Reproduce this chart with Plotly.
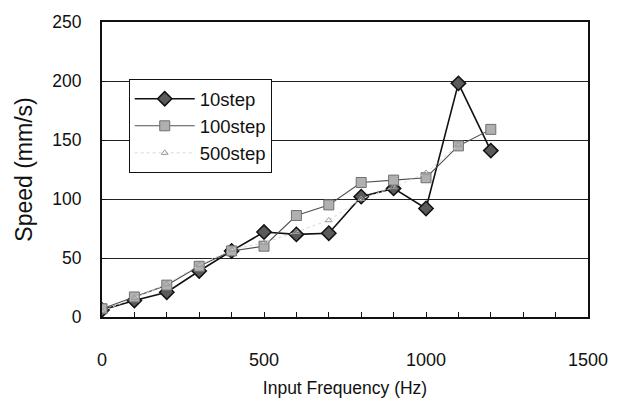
import plotly.graph_objects as go

freq = [0, 100, 200, 300, 400, 500, 600, 700, 800, 900, 1000, 1100, 1200]
speed_10 = [6, 14, 21, 39, 56, 72, 70, 71, 102, 109, 92, 198, 141]
speed_100 = [7, 17, 27, 43, 56, 60, 86, 95, 114, 116, 118, 145, 159]
freq_500 = [0, 100, 200, 300, 400, 500, 600, 700, 800, 900, 1000, 1100]
speed_500 = [5, 16, 28, 44, 57, 63, 72, 82, 100, 110, 122, 146]

x_ticks = [0, 500, 1000, 1500]
y_ticks = [0, 50, 100, 150, 200, 250]

FONT = "Liberation Sans, Arial, sans-serif"

fig = go.Figure()
fig.add_trace(go.Scatter(
    x=freq, y=speed_10, name="10step", mode="lines+markers", legendgroup="a",
    line=dict(color="#111111", width=1.6),
    marker=dict(symbol="diamond", size=11, color="#5a5a5a",
                line=dict(color="#111111", width=1.5)),
))
fig.add_trace(go.Scatter(
    x=freq, y=speed_100, name="100step", mode="lines+markers", legendgroup="b",
    line=dict(color="#505050", width=1.1),
    marker=dict(symbol="square", size=10, color="#b0b0b0",
                line=dict(color="#707070", width=1)),
))
fig.add_trace(go.Scatter(
    x=freq_500, y=speed_500, name="500step", mode="lines+markers", legendgroup="c",
    line=dict(color="#d8d8d8", width=1, dash="dot"),
    marker=dict(symbol="triangle-up", size=6, color="rgba(0,0,0,0)",
                line=dict(color="#9a9a9a", width=1)),
))

fig.update_layout(
    width=624, height=407,
    margin=dict(l=102, r=36, t=14, b=79),
    paper_bgcolor="white", plot_bgcolor="white",
    font=dict(family=FONT, color="#111111", size=17),
    showlegend=True,
    legend=dict(
        x=0.055, y=0.806, xanchor="left", yanchor="top",
        bgcolor="white", bordercolor="#111111", borderwidth=1,
        font=dict(size=18.5, family=FONT), itemwidth=60, tracegroupgap=0,
    ),
)
fig.update_xaxes(
    range=[0, 1500], tickvals=x_ticks, ticktext=[str(v) for v in x_ticks],
    showgrid=False, zeroline=False,
    showline=True, linecolor="#111111", linewidth=1.5, mirror=True,
    ticks="inside", ticklen=5, tickcolor="#111111",
    minor=dict(dtick=100, ticks="inside", ticklen=5, tickcolor="#111111"),
    ticklabelstandoff=26,
    title=dict(text="Input Frequency (Hz)", font=dict(size=17.5, family=FONT), standoff=12),
    tickfont=dict(size=18, family=FONT),
)
fig.update_yaxes(
    range=[0, 250], tickvals=y_ticks, ticktext=[str(v) for v in y_ticks],
    showgrid=True, gridcolor="#222222", gridwidth=1, zeroline=False,
    showline=True, linecolor="#111111", linewidth=2, mirror=True,
    ticks="inside", ticklen=4, tickcolor="#111111",
    ticklabelstandoff=15,
    title=dict(text="Speed (mm/s)", font=dict(size=23, family=FONT), standoff=13),
    tickfont=dict(size=17.5, family=FONT),
)

fig.write_html("out.html")
